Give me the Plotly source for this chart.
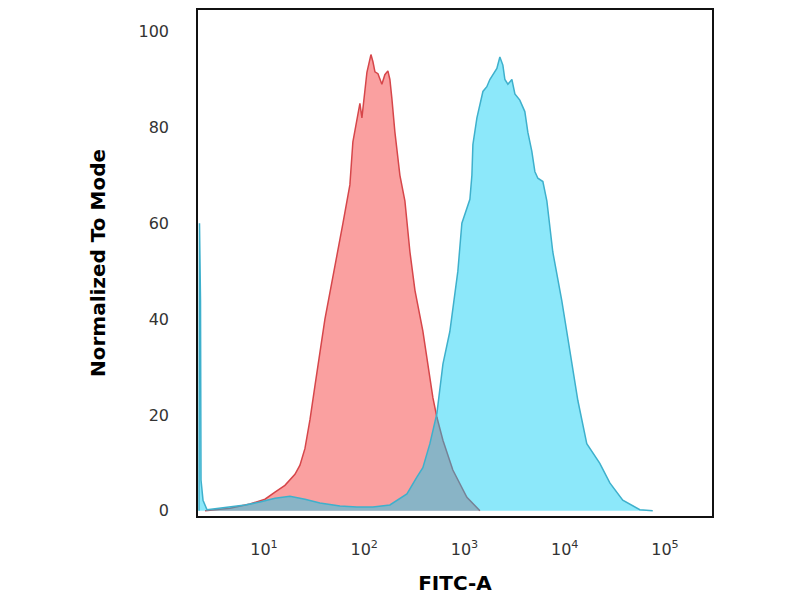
import plotly.graph_objects as go

# FITC-A histogram, values (log10 of FITC-A, % of mode)
iso_log = [0.412, 0.661, 0.860, 1.010, 1.110, 1.209, 1.309, 1.359, 1.409, 1.459,
           1.508, 1.608, 1.788, 1.857, 1.887, 1.937, 1.957, 1.977, 1.997, 2.027,
           2.067, 2.087, 2.107, 2.137, 2.176, 2.206, 2.236, 2.256, 2.276, 2.306,
           2.356, 2.406, 2.456, 2.506, 2.585, 2.635, 2.685, 2.725, 2.785, 2.884,
           3.024, 3.154]
iso_val = [0, 0.5, 1.4, 2.4, 3.9, 5.3, 7.6, 9.5, 13, 19,
           26, 40, 60, 68, 77, 83, 85, 82, 86, 91.5,
           95.2, 93.7, 91.6, 91.2, 89, 91, 91.8, 90, 86, 79,
           70, 64.6, 54, 46, 37.5, 30, 23.6, 19.5, 14.7, 8.5,
           2.8, 0]

ab_log = [0.352, 0.357, 0.367, 0.372, 0.392, 0.432, 0.511, 0.661, 0.811, 0.960,
          1.110, 1.259, 1.409, 1.558, 1.758, 1.927, 2.087, 2.256, 2.356, 2.426,
          2.525, 2.585, 2.655, 2.725, 2.785, 2.854, 2.934, 2.974, 3.054, 3.074,
          3.084, 3.124, 3.184, 3.223, 3.253, 3.283, 3.323, 3.353, 3.383, 3.403,
          3.433, 3.473, 3.503, 3.552, 3.602, 3.632, 3.672, 3.702, 3.732, 3.782,
          3.822, 3.881, 3.971, 4.051, 4.131, 4.220, 4.350, 4.450, 4.579, 4.749,
          4.878]
ab_val = [0, 60, 44, 6.4, 2.2, 0.2, 0.4, 0.8, 1.2, 1.8,
          2.6, 3.0, 2.4, 1.6, 1.0, 0.8, 0.8, 1.2, 2.5, 3.5,
          7, 9, 14, 20.3, 30.6, 37.4, 50, 60, 65, 70,
          76.4, 82, 87.5, 88.5, 90, 91, 92.3, 94.7, 93, 90,
          89, 90, 87, 85.7, 83.3, 79, 75, 70.8, 69.4, 68.7,
          64.6, 54, 43.8, 33.4, 23, 14, 9.9, 5.8, 2.2, 0.2,
          0]

tick_vals = [10, 100, 1000, 10000, 100000]
tick_text = ["10<sup>1</sup>", "10<sup>2</sup>", "10<sup>3</sup>",
             "10<sup>4</sup>", "10<sup>5</sup>"]

fig = go.Figure()
fig.add_trace(go.Scatter(x=[10 ** v for v in iso_log], y=iso_val, mode="lines",
                         fill="tozeroy", fillcolor="rgb(250,160,160)",
                         line=dict(color="rgb(214,70,74)", width=1.5)))
fig.add_trace(go.Scatter(x=[10 ** v for v in ab_log], y=ab_val, mode="lines",
                         fill="tozeroy", fillcolor="rgba(0,204,244,0.45)",
                         line=dict(color="rgb(62,176,204)", width=1.5)))

# page body adds ~8px, so margins are set a bit smaller
fig.update_layout(
    width=800, height=600,
    margin=dict(l=190, r=96, t=0, b=92),
    paper_bgcolor="white", plot_bgcolor="white",
    showlegend=False,
    font=dict(family="DejaVu Sans", color="#333333"),
)
fig.update_xaxes(type="log", range=[0.342, 5.469],
                 tickvals=tick_vals, ticktext=tick_text,
                 tickfont=dict(size=16), ticks="", ticklabelstandoff=18,
                 showgrid=False, zeroline=False,
                 showline=True, mirror=True, linecolor="#111111", linewidth=1.5,
                 title=dict(text="<b>FITC-A</b>", font=dict(size=20, color="black"),
                            standoff=18))
fig.update_yaxes(range=[-1.1, 104.5], tickvals=[0, 20, 40, 60, 80, 100],
                 tickfont=dict(size=16), ticks="", ticklabelstandoff=24,
                 showgrid=False, zeroline=False,
                 showline=True, mirror=True, linecolor="#111111", linewidth=1.5,
                 title=dict(text="<b>Normalized To Mode</b>",
                            font=dict(size=20, color="black"), standoff=28))

fig.write_html("out.html")
